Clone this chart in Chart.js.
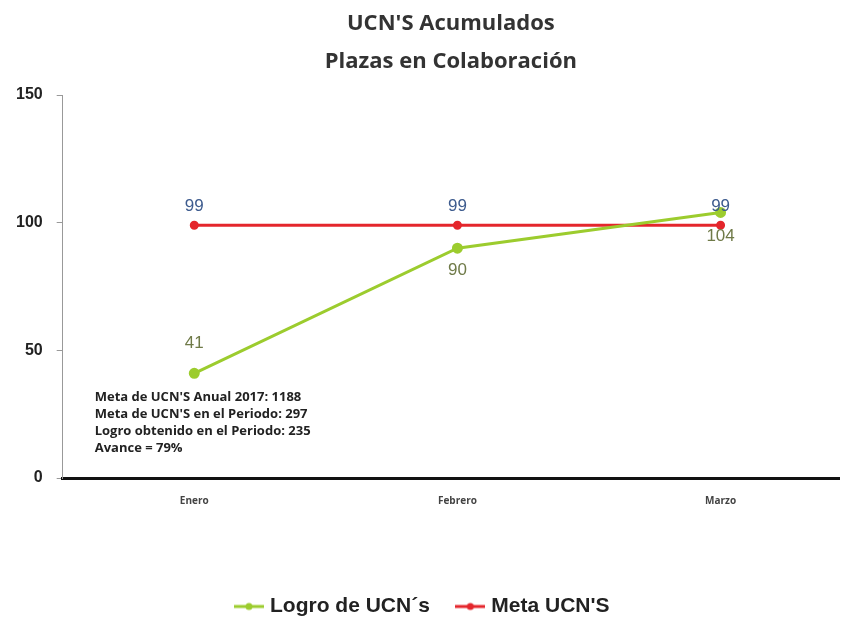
<!DOCTYPE html>
<html><head><meta charset="utf-8">
<script src="https://cdn.jsdelivr.net/npm/chart.js@4"></script>
<style>html,body{margin:0;padding:0;background:#fff}#wrap{width:846px;height:617px}</style>
</head><body><div id="wrap"><canvas id="c" width="846" height="617"></canvas></div>
<script>
const categories = ['Enero', 'Febrero', 'Marzo'];
const logroValues = [41, 90, 104];
const metaValues = [99, 99, 99];
const yTicks = [0, 50, 100, 150];
const titleLines = ["UCN'S Acumulados", 'Plazas en Colaboración'];
const noteLines = ["Meta de UCN'S Anual 2017: 1188", "Meta de UCN'S en el Periodo: 297", 'Logro obtenido en el Periodo: 235', 'Avance = 79%'];
const seriesNames = ['Logro de UCN´s', "Meta UCN'S"];

const GREEN = '#9ccc2e', RED = '#e4262c';

function legendMark(color){
  const c = document.createElement('canvas'); c.width = 30; c.height = 10;
  const g = c.getContext('2d');
  g.strokeStyle = color; g.lineWidth = 3;
  g.beginPath(); g.moveTo(0,5); g.lineTo(30,5); g.stroke();
  g.fillStyle = color; g.beginPath(); g.arc(15,5,3.5,0,Math.PI*2); g.fill();
  return c;
}

const labelPlugin = {
  id: 'labels',
  afterDatasetsDraw(chart){
    const ctx = chart.ctx;
    ctx.save();
    ctx.textAlign = 'center'; ctx.textBaseline = 'middle';
    ctx.font = '17px "Liberation Sans", Arial, sans-serif';
    const m0 = chart.getDatasetMeta(0), m1 = chart.getDatasetMeta(1);
    const offs0 = [-30, 22, 24];
    m0.data.forEach((p,i)=>{ ctx.fillStyle = '#6f7a48'; ctx.fillText(String(logroValues[i]), p.x, p.y + offs0[i]); });
    m1.data.forEach((p,i)=>{ ctx.fillStyle = '#3d5b8e'; ctx.fillText(String(metaValues[i]), p.x, p.y - 19); });
    // note
    ctx.textAlign = 'left';
    ctx.font = 'bold 13px "Open Sans", Arial, sans-serif';
    ctx.fillStyle = '#222';
    const a = chart.chartArea;
    noteLines.forEach((t,i)=>{ ctx.fillText(t, a.left + 32, 397 + i*17); });
    ctx.restore();
  }
};

new Chart(document.getElementById('c'), {
  type: 'line',
  data: {
    datasets: [
      { label: seriesNames[0], data: logroValues.map((v,i)=>({x:i,y:v})), borderColor: GREEN, backgroundColor: GREEN,
        borderWidth: 3, pointRadius: 4, pointHoverRadius: 4, pointStyle: 'circle', tension: 0 },
      { label: seriesNames[1], data: metaValues.map((v,i)=>({x:i,y:v})), borderColor: RED, backgroundColor: RED,
        borderWidth: 3, pointRadius: 3, pointStyle: 'circle', tension: 0 }
    ]
  },
  options: {
    responsive: false, animation: false,
    layout: { padding: { left: 2, right: 0, top: 4, bottom: -10 } },
    plugins: {
      tooltip: { enabled: false },
      title: { display: true, text: titleLines, fullSize: false, color: '#333',
        font: { family: '"Open Sans", Arial, sans-serif', size: 22, weight: 'bold', lineHeight: 1.75 },
        padding: { top: 0, bottom: 14 } },
      legend: { position: 'bottom',
        labels: { color: '#222', font: { family: '"Liberation Sans", Arial, sans-serif', size: 21, weight: 'bold' },
          usePointStyle: true, padding: 30, boxWidth: 30,
          generateLabels(chart){
            return chart.data.datasets.map((d,i)=>({ text: d.label, pointStyle: legendMark(d.borderColor),
              fillStyle: d.borderColor, strokeStyle: d.borderColor, lineWidth: 0, datasetIndex: i, fontColor: '#222' }));
          } } }
    },
    scales: {
      x: { type: 'linear', min: -0.5, max: 2.45,
        afterFit(s){ s.height = 88; },
        afterBuildTicks(s){ s.ticks = categories.map((c,i)=>({value:i})); },
        grid: { display: false },
        border: { color: '#111', width: 3 },
        ticks: { color: '#444', font: { family: '"Open Sans", Arial, sans-serif', size: 10, weight: 'bold' }, padding: 9,
          callback: (v)=> categories[v] }
      },
      y: { min: 0, max: 150,
        afterBuildTicks(s){ s.ticks = yTicks.map(v=>({value:v})); },
        grid: { drawOnChartArea: false, drawTicks: true, tickLength: 6, color: '#999' },
        border: { color: '#999', width: 1 },
        ticks: { color: '#222', padding: 14, font: { family: '"Liberation Sans", Arial, sans-serif', size: 16, weight: 'bold' } }
      }
    }
  },
  plugins: [labelPlugin]
});
</script></body></html>
